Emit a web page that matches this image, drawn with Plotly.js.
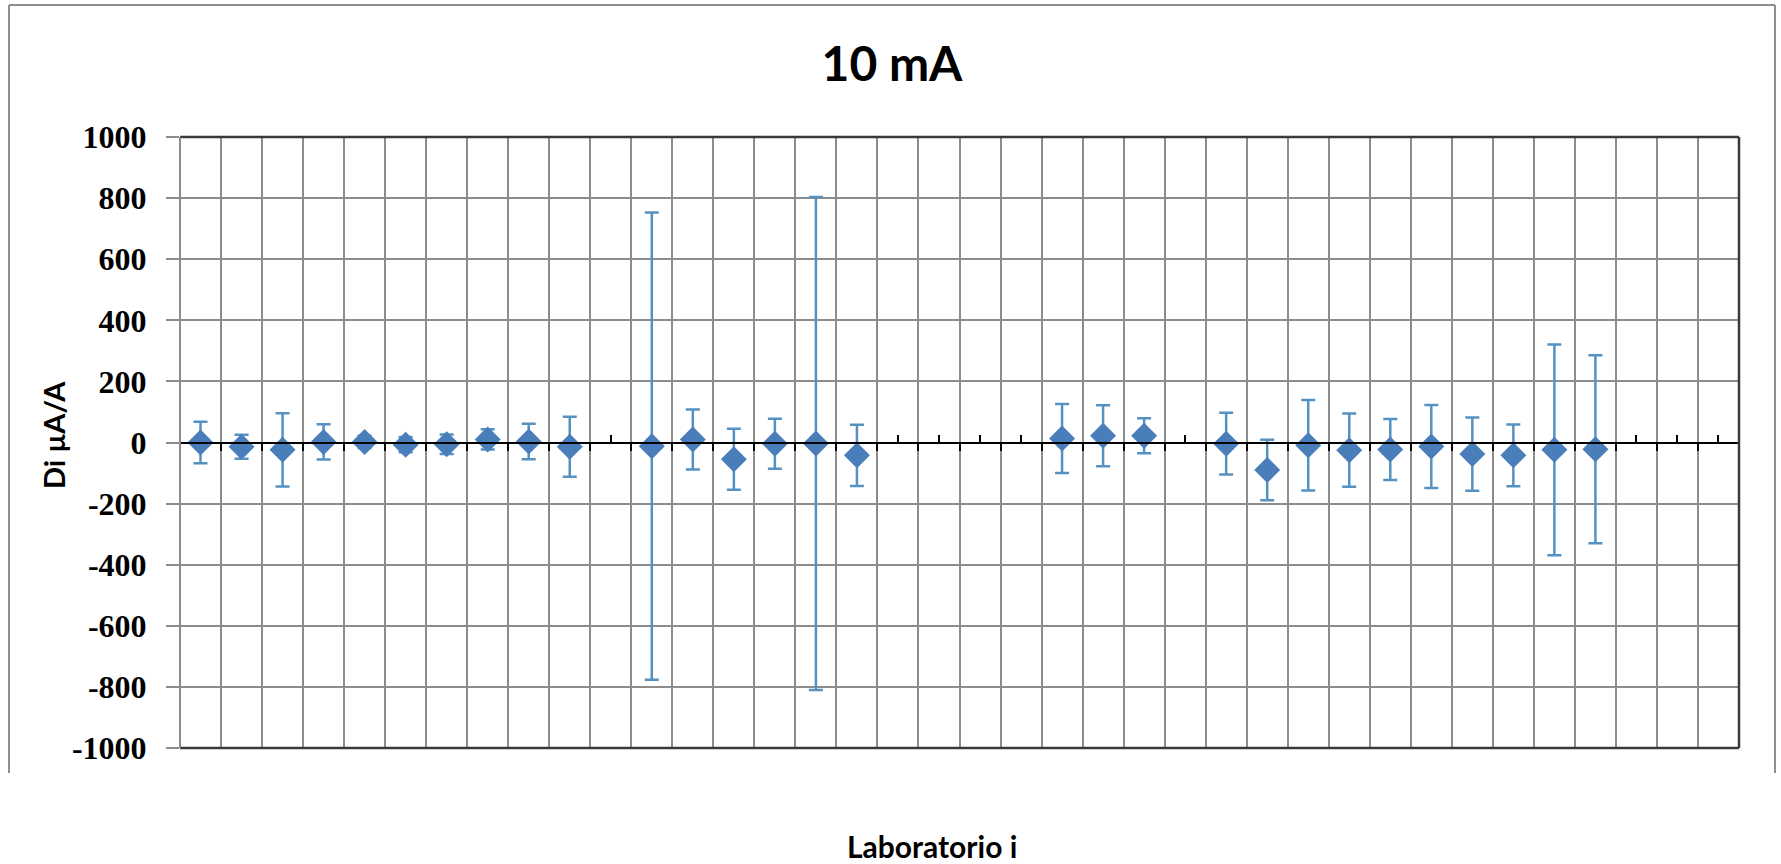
<!DOCTYPE html>
<html>
<head>
<meta charset="utf-8">
<script src="https://cdn.plot.ly/plotly-3.0.1.min.js"></script>
<style>html,body{margin:0;padding:0;background:#fff;}#chart{width:1781px;height:864px;}</style>
</head>
<body>
<div id="chart"></div>
<script>
// ---- data ----
const labs = Array.from({length: 38}, (_, i) => String(i + 1));
const di = [0, -14, -24, 2, 2, -7, -6, 10, 3, -14,
            null, -12, 10, -55, -4, -3, -42,
            null, null, null, null, 13, 22, 22,
            null, -4, -90, -9, -25, -23, -13, -38, -42, -24, -22,
            null, null, null];
const unc = [68, 39, 120, 58, 20, 25, 32, 33, 58, 98,
             null, 765, 98, 100, 82, 807, 100,
             null, null, null, null, 113, 100, 57,
             null, 101, 99, 148, 120, 100, 136, 120, 101, 345, 308,
             null, null, null];
const yTicks = [-1000, -800, -600, -400, -200, 0, 200, 400, 600, 800, 1000];
const yTickText = ['-1000', '-800', '-600', '-400', '-200', '0', '200', '400', '600', '800', '1000'];
const titleText = '10 mA';
const yTitle = 'Di µA/A';
const xTitle = 'Laboratorio i';

// ---- geometry ----
const W = 1781, H = 864;
const mL = 180, mR = 42, mT = 137, mB = 116;
const pw = W - mL - mR, ph = H - mT - mB;
const px = x => (x - mL) / pw;
const py = y => (H - mB - y) / ph;

const emptyIdx = [];
di.forEach((v, i) => { if (v === null) emptyIdx.push(i + 1); });

const trace = {
  type: 'scatter', mode: 'markers',
  x: labs, y: di,
  marker: {symbol: 'diamond', size: 20, color: '#4a7ebb'},
  error_y: {type: 'data', array: unc, symmetric: true, visible: true,
            color: '#5592c2', thickness: 2.5, width: 7},
  hoverinfo: 'x+y', showlegend: false
};

// carrier for the secondary axis that marks the empty laboratories
const emptyTrace = {
  type: 'scatter', mode: 'markers', xaxis: 'x2', yaxis: 'y',
  x: emptyIdx, y: emptyIdx.map(() => 0),
  marker: {opacity: 0, size: 1}, hoverinfo: 'skip', showlegend: false
};

const gridCol = '#8c8c8c';
const frameCol = '#8e8e8e';
const borderCol = '#3a3a3a';

const layout = {
  width: W, height: H,
  margin: {l: mL, r: mR, t: mT, b: mB},
  paper_bgcolor: '#ffffff', plot_bgcolor: '#ffffff',
  showlegend: false,
  title: {text: titleText, xref: 'container', yref: 'container',
          x: 892 / W, y: 1 - 64 / H, xanchor: 'center', yanchor: 'middle',
          font: {family: 'Lato, "Open Sans", sans-serif', size: 48, weight: 'bold', color: '#000'}},
  xaxis: {
    type: 'category', categoryorder: 'array', categoryarray: labs,
    range: [-0.5, labs.length - 0.5],
    anchor: 'free', position: 0.5,
    showline: true, linecolor: '#000', linewidth: 2,
    ticks: 'outside', tickson: 'boundaries', ticklen: 7, tickwidth: 2, tickcolor: '#000',
    showgrid: true, gridcolor: gridCol, gridwidth: 2,
    showticklabels: false, zeroline: false, fixedrange: true
  },
  xaxis2: {
    type: 'linear', overlaying: 'x', anchor: 'free', position: 0.5,
    range: [0.5, labs.length + 0.5],
    tickmode: 'array', tickvals: emptyIdx,
    ticks: 'inside', ticklen: 8, tickwidth: 2, tickcolor: '#000',
    showline: false, showgrid: false, zeroline: false, showticklabels: false, fixedrange: true
  },
  yaxis: {
    range: [-1000, 1000], tickmode: 'array', tickvals: yTicks, ticktext: yTickText,
    ticks: 'outside', ticklen: 13, tickwidth: 2, tickcolor: gridCol,
    ticklabelstandoff: 13,
    showgrid: true, gridcolor: gridCol, gridwidth: 2,
    zeroline: false, showline: false,
    tickfont: {family: '"Liberation Serif", serif', size: 32, weight: 'bold', color: '#000'},
    fixedrange: true
  },
  annotations: [
    {text: yTitle, xref: 'paper', yref: 'paper', x: px(53), y: py(435),
     textangle: -90, showarrow: false, xanchor: 'center', yanchor: 'middle',
     font: {family: 'Lato, "Open Sans", sans-serif', size: 29, weight: 'bold', color: '#000'}},
    {text: xTitle, xref: 'paper', yref: 'paper', x: px(932), y: py(846),
     showarrow: false, xanchor: 'center', yanchor: 'middle',
     font: {family: 'Lato, "Open Sans", sans-serif', size: 30, weight: 'bold', color: '#000'}}
  ],
  shapes: [
    // outer chart frame (left, top, right)
    {type: 'line', xref: 'paper', yref: 'paper', x0: px(9), x1: px(9), y0: py(5), y1: py(773), line: {color: frameCol, width: 2}},
    {type: 'line', xref: 'paper', yref: 'paper', x0: px(9), x1: px(1775), y0: py(5), y1: py(5), line: {color: frameCol, width: 2}},
    {type: 'line', xref: 'paper', yref: 'paper', x0: px(1775), x1: px(1775), y0: py(5), y1: py(773), line: {color: frameCol, width: 2}},
    // plot area border
    {type: 'line', xref: 'paper', yref: 'paper', x0: 0, x1: 1, y0: 1, y1: 1, line: {color: borderCol, width: 2.5}},
    {type: 'line', xref: 'paper', yref: 'paper', x0: 0, x1: 1, y0: 0, y1: 0, line: {color: borderCol, width: 2.5}},
    {type: 'line', xref: 'paper', yref: 'paper', x0: 1, x1: 1, y0: 0, y1: 1, line: {color: borderCol, width: 2.5}},
    {type: 'line', xref: 'paper', yref: 'paper', x0: 0, x1: 0, y0: 0, y1: 1, line: {color: gridCol, width: 2}}
  ]
};

Plotly.newPlot('chart', [trace, emptyTrace], layout, {displayModeBar: false, staticPlot: true});
</script>
</body>
</html>
